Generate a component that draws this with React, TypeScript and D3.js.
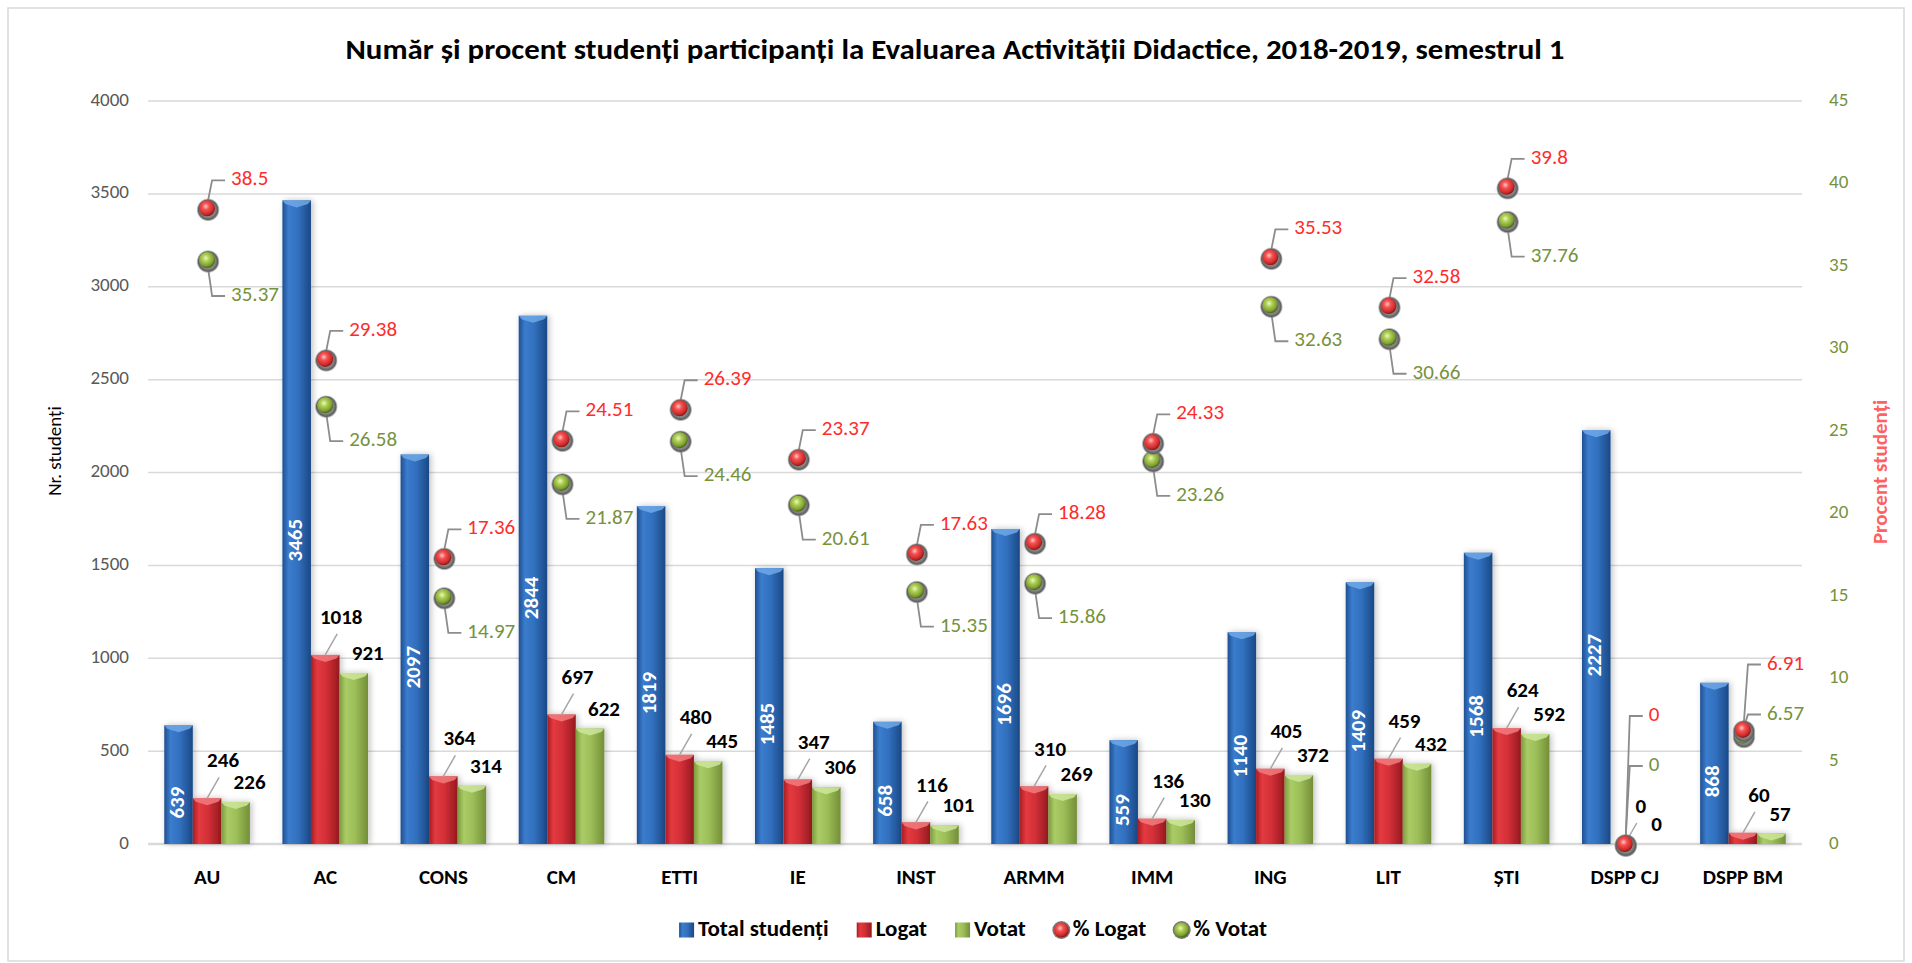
import * as d3 from "d3";
import { useEffect, useRef } from "react";

const categories = ["AU", "AC", "CONS", "CM", "ETTI", "IE", "INST", "ARMM", "IMM", "ING", "LIT", "ȘTI", "DSPP CJ", "DSPP BM"];
const totalStudenti = [639, 3465, 2097, 2844, 1819, 1485, 658, 1696, 559, 1140, 1409, 1568, 2227, 868];
const logat = [246, 1018, 364, 697, 480, 347, 116, 310, 136, 405, 459, 624, 0, 60];
const votat = [226, 921, 314, 622, 445, 306, 101, 269, 130, 372, 432, 592, 0, 57];
const pctLogat = [38.5, 29.38, 17.36, 24.51, 26.39, 23.37, 17.63, 18.28, 24.33, 35.53, 32.58, 39.8, 0, 6.91];
const pctVotat = [35.37, 26.58, 14.97, 21.87, 24.46, 20.61, 15.35, 15.86, 23.26, 32.63, 30.66, 37.76, 0, 6.57];
const leftTicks = [0, 500, 1000, 1500, 2000, 2500, 3000, 3500, 4000];
const rightTicks = [0, 5, 10, 15, 20, 25, 30, 35, 40, 45];
const legendNames = ["Total studenți", "Logat", "Votat", "% Logat", "% Votat"];

const title = "Număr și procent studenți participanți la Evaluarea Activității Didactice, 2018-2019, semestrul 1";

export default function App() {
  const svgRef = useRef<SVGSVGElement | null>(null);

  useEffect(() => {
    if (!svgRef.current) return;
    const svg = d3.select(svgRef.current);
    svg.selectAll("*").remove();

    const width = 1912;
    const height = 963;
    const plot = { left: 148, right: 1802, top: 101, bottom: 844 };
    const font = "Carlito, Lato, sans-serif";
    const redText = "#FF2B2B";
    const greenText = "#76923C";

    const x = d3.scaleBand().domain(categories).range([plot.left, plot.right]);
    const xSub = d3
      .scaleBand()
      .domain(["total", "logat", "votat"])
      .range([0, x.bandwidth()])
      .paddingOuter(0.57);
    const yLeft = d3.scaleLinear().domain([0, 4000]).range([plot.bottom, plot.top]);
    const yRight = d3.scaleLinear().domain([0, 45]).range([plot.bottom, plot.top]);

    svg.attr("width", width).attr("height", height).style("font-family", font);

    // gradients
    const defs = svg.append("defs");
    const barGrad = (id: string, stops: string[]) => {
      const g = defs.append("linearGradient").attr("id", id).attr("x1", "0").attr("x2", "1").attr("y1", "0").attr("y2", "0");
      const offs = [0, 0.22, 0.55, 1];
      stops.forEach((c, i) => g.append("stop").attr("offset", offs[i]).attr("stop-color", c));
    };
    barGrad("gBlue", ["#1F4F91", "#3B7CCD", "#3170BE", "#1B4885"]);
    barGrad("gRed", ["#A71D22", "#E43A40", "#D12F37", "#961A1F"]);
    barGrad("gGreen", ["#7D9B3F", "#AACC66", "#9CBD57", "#738E38"]);

    const sphereGrad = (id: string, stops: string[]) => {
      const g = defs.append("radialGradient").attr("id", id).attr("cx", "42%").attr("cy", "38%").attr("r", "60%");
      const offs = [0, 0.35, 0.8, 1];
      stops.forEach((c, i) => g.append("stop").attr("offset", offs[i]).attr("stop-color", c));
    };
    sphereGrad("sRed", ["#FFC4C4", "#F45252", "#D02A2A", "#8E1B1B"]);
    sphereGrad("sGreen", ["#EEF8B8", "#AECF55", "#7FA032", "#4E6A1A"]);
    const ring = defs.append("radialGradient").attr("id", "sRing");
    ring.append("stop").attr("offset", 0.6).attr("stop-color", "#8A8A8A");
    ring.append("stop").attr("offset", 0.85).attr("stop-color", "#5E5E5E");
    ring.append("stop").attr("offset", 1).attr("stop-color", "#9A9A9A").attr("stop-opacity", 0.2);

    const shadow = defs.append("filter").attr("id", "barShadow").attr("x", "-30%").attr("y", "-5%").attr("width", "160%").attr("height", "110%");
    shadow.append("feGaussianBlur").attr("in", "SourceAlpha").attr("stdDeviation", 3);
    shadow.append("feOffset").attr("dx", 2).attr("dy", 0).attr("result", "b");
    shadow.append("feComponentTransfer").append("feFuncA").attr("type", "linear").attr("slope", 0.25);
    const m = shadow.append("feMerge");
    m.append("feMergeNode");
    m.append("feMergeNode").attr("in", "SourceGraphic");

    // chart border
    svg.append("rect")
      .attr("x", 8).attr("y", 8).attr("width", width - 16).attr("height", height - 10)
      .attr("fill", "white").attr("stroke", "#D9D9D9").attr("stroke-width", 1.5);

    // title
    svg.append("text")
      .attr("x", 955).attr("y", 52)
      .attr("text-anchor", "middle").attr("dominant-baseline", "middle")
      .attr("font-size", 29).attr("font-weight", 700).attr("fill", "#000")
      .attr("textLength", 1219).attr("lengthAdjust", "spacingAndGlyphs")
      .text(title);

    // gridlines
    svg.append("g")
      .selectAll("line")
      .data(leftTicks)
      .join("line")
      .attr("x1", plot.left).attr("x2", plot.right)
      .attr("y1", (d) => yLeft(d)).attr("y2", (d) => yLeft(d))
      .attr("stroke", "#D9D9D9").attr("stroke-width", (d) => (d === 0 ? 2.5 : 1.5));

    // left axis
    svg.append("g")
      .selectAll("text")
      .data(leftTicks)
      .join("text")
      .attr("x", 129).attr("y", (d) => yLeft(d))
      .attr("text-anchor", "end").attr("dominant-baseline", "middle")
      .attr("font-size", 19).attr("fill", "#595959")
      .text((d) => d);

    // right axis
    svg.append("g")
      .selectAll("text")
      .data(rightTicks)
      .join("text")
      .attr("x", 1829).attr("y", (d) => yRight(d))
      .attr("dominant-baseline", "middle")
      .attr("font-size", 19).attr("fill", greenText)
      .text((d) => d);

    // axis titles
    svg.append("text")
      .attr("transform", `translate(56, ${451}) rotate(-90)`)
      .attr("text-anchor", "middle").attr("dominant-baseline", "middle")
      .attr("font-size", 19).attr("fill", "#000")
      .text("Nr. studenți");
    svg.append("text")
      .attr("transform", `translate(1882, ${472}) rotate(-90)`)
      .attr("text-anchor", "middle").attr("dominant-baseline", "middle")
      .attr("font-size", 21).attr("font-weight", 700).attr("fill", "#FF6161")
      .text("Procent studenți");

    // category labels
    svg.append("g")
      .selectAll("text")
      .data(categories)
      .join("text")
      .attr("x", (d) => x(d)! + x.bandwidth() / 2)
      .attr("y", 879)
      .attr("text-anchor", "middle").attr("dominant-baseline", "middle")
      .attr("font-size", 21).attr("font-weight", 700).attr("fill", "#000")
      .text((d) => d);

    // bars
    const series = [
      { key: "total", values: totalStudenti, fill: "url(#gBlue)", cap: "#6FA8E8" },
      { key: "logat", values: logat, fill: "url(#gRed)", cap: "#F27A7E" },
      { key: "votat", values: votat, fill: "url(#gGreen)", cap: "#CDE69A" },
    ];
    const bw = xSub.bandwidth();
    const barsG = svg.append("g");
    series.forEach((s) => {
      const g = barsG.append("g").attr("filter", "url(#barShadow)");
      const rows = categories.map((c, i) => ({ c, v: s.values[i] }));
      g.selectAll("rect")
        .data(rows)
        .join("rect")
        .attr("x", (d) => x(d.c)! + xSub(s.key)!)
        .attr("y", (d) => yLeft(d.v))
        .attr("width", bw)
        .attr("height", (d) => plot.bottom - yLeft(d.v))
        .attr("fill", s.fill);
      // bevel cap
      g.selectAll("path")
        .data(rows.filter((d) => d.v > 0))
        .join("path")
        .attr("d", (d) => {
          const x0 = x(d.c)! + xSub(s.key)!;
          const y0 = yLeft(d.v);
          const h = Math.min(7, plot.bottom - y0);
          return `M${x0},${y0}L${x0 + bw},${y0}L${x0 + bw - 3},${y0 + h * 0.5}L${x0 + bw / 2},${y0 + h}L${x0 + 3},${y0 + h * 0.5}Z`;
        })
        .attr("fill", s.cap)
        .attr("opacity", 0.85);
    });

    const cx = (c: string, key: string) => x(c)! + xSub(key)! + bw / 2;

    // total labels (white, rotated, inside)
    svg.append("g")
      .selectAll("text")
      .data(categories)
      .join("text")
      .attr("transform", (c, i) => {
        const mid = (yLeft(totalStudenti[i]) + plot.bottom) / 2 + 18;
        return `translate(${cx(c, "total")}, ${mid}) rotate(-90)`;
      })
      .attr("text-anchor", "middle").attr("dominant-baseline", "middle")
      .attr("font-size", 21).attr("font-weight", 700).attr("fill", "#fff")
      .text((c, i) => totalStudenti[i]);

    // logat labels with leaders
    const lg = svg.append("g");
    const barLabelY: number[] = [];
    categories.forEach((c, i) => {
      const bx = cx(c, "logat");
      const top = yLeft(logat[i]);
      barLabelY.push(Math.min(top - 36, yLeft(votat[i]) - 18));
      lg.append("line")
        .attr("x1", bx).attr("y1", top)
        .attr("x2", bx + 12).attr("y2", top - 21)
        .attr("stroke", "#A6A6A6").attr("stroke-width", 1.5);
      lg.append("text")
        .attr("x", bx + 16).attr("y", top - 36)
        .attr("text-anchor", "middle").attr("dominant-baseline", "middle")
        .attr("font-size", 21).attr("font-weight", 700).attr("fill", "#000")
        .text(logat[i]);
    });

    // votat labels
    svg.append("g")
      .selectAll("text")
      .data(categories)
      .join("text")
      .attr("x", (c) => cx(c, "votat") - 2)
      .attr("y", (c, i) => yLeft(votat[i]) - 18)
      .attr("dominant-baseline", "middle")
      .attr("font-size", 21).attr("font-weight", 700).attr("fill", "#000")
      .text((c, i) => votat[i]);

    // percentage points
    const pg = svg.append("g");
    const sphere = (g: d3.Selection<SVGGElement, unknown, null, undefined>, px: number, py: number, r: number, grad: string) => {
      g.append("circle").attr("cx", px + 1).attr("cy", py + 1.5).attr("r", r + 3.5).attr("fill", "url(#sRing)");
      g.append("circle").attr("cx", px).attr("cy", py).attr("r", r).attr("fill", grad);
    };
    const leader = (px: number, py: number, ly: number) => {
      if (Math.abs(ly - py) < 12) return;
      const dir = ly < py ? -1 : 1;
      pg.append("path")
        .attr("d", `M${px + 1},${py + dir * 8}L${px + 5},${ly}L${px + 18},${ly}`)
        .attr("fill", "none").attr("stroke", "#8C8C8C").attr("stroke-width", 1.8);
    };
    categories.forEach((c, i) => {
      const px = x(c)! + x.bandwidth() / 2;
      const yL = yRight(pctLogat[i]);
      const yV = yRight(pctVotat[i]);
      let lyV = yV + 36;
      let lyL = yL - 28;
      if (lyV > plot.bottom - 110) {
        // not enough room below: stack both labels above the bar labels
        lyV = Math.min(yV - 21, barLabelY[i] - 42);
        lyL = lyV - 50;
      }
      leader(px, yL, lyL);
      leader(px, yV, lyV);
      sphere(pg, px, yV, 8, "url(#sGreen)");
      sphere(pg, px, yL, 8, "url(#sRed)");
      pg.append("text")
        .attr("x", px + 24).attr("y", lyL)
        .attr("dominant-baseline", "middle")
        .attr("font-size", 21).attr("fill", redText)
        .text(pctLogat[i]);
      pg.append("text")
        .attr("x", px + 24).attr("y", lyV)
        .attr("dominant-baseline", "middle")
        .attr("font-size", 21).attr("fill", greenText)
        .text(pctVotat[i]);
    });

    // legend
    const leg = svg.append("g");
    const markerFill = ["url(#gBlue)", "url(#gRed)", "url(#gGreen)", "url(#sRed)", "url(#sGreen)"];
    let lx = 0;
    legendNames.forEach((name, i) => {
      const it = leg.append("g");
      if (i < 3) {
        it.append("rect").attr("x", 0).attr("y", -7.5).attr("width", 15).attr("height", 15).attr("fill", markerFill[i]);
      } else {
        it.append("circle").attr("cx", 7.5).attr("cy", 0).attr("r", 9).attr("fill", "#777");
        it.append("circle").attr("cx", 7.5).attr("cy", 0).attr("r", 7.5).attr("fill", markerFill[i]);
      }
      const t = it.append("text")
        .attr("x", 19).attr("y", 0)
        .attr("dominant-baseline", "middle")
        .attr("font-size", 23).attr("font-weight", 700).attr("fill", "#000")
        .text(name);
      const w = (t.node() as SVGTextElement).getComputedTextLength();
      it.attr("transform", `translate(${lx}, 0)`);
      lx += 19 + w + 28;
    });
    const total = lx - 28;
    leg.attr("transform", `translate(${973 - total / 2}, 930)`);
  }, []);

  return <svg ref={svgRef} style={{ position: "absolute", left: 0, top: 0 }}></svg>;
}
